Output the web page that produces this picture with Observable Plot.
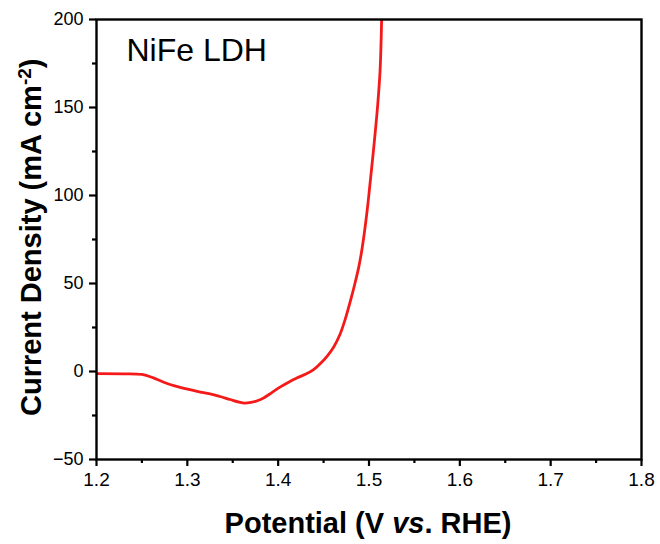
<!DOCTYPE html>
<html>
<head>
<meta charset="utf-8">
<script src="https://cdn.jsdelivr.net/npm/d3@7"></script>
<script src="https://cdn.jsdelivr.net/npm/@observablehq/plot@0.6"></script>
<style>
  html, body { margin: 0; padding: 0; background: #fff; }
  #chart { width: 660px; height: 544px; }
</style>
</head>
<body>
<div id="chart"></div>
<script>
const potential = [1.200, 1.230, 1.250, 1.262, 1.274, 1.287, 1.299, 1.312, 1.325, 1.336, 1.347, 1.357, 1.363, 1.370, 1.377, 1.384, 1.393, 1.402, 1.411, 1.420, 1.430, 1.439, 1.447, 1.454, 1.461, 1.468, 1.474, 1.480, 1.4845, 1.489, 1.4926, 1.4974, 1.501, 1.504, 1.5065, 1.5095, 1.5122, 1.5139];
const current   = [-1.2, -1.3, -1.7, -3.5, -6.1, -8.3, -9.9, -11.4, -12.7, -14.2, -15.9, -17.4, -18.0, -17.6, -16.6, -15.0, -12.0, -8.9, -6.2, -3.8, -1.6, 1.0, 4.8, 8.8, 13.8, 21, 30, 41, 50, 60, 70.6, 89, 106, 121, 134, 151, 171, 200];
const xMajor = [1.2, 1.3, 1.4, 1.5, 1.6, 1.7, 1.8];
const xMinor = [1.25, 1.35, 1.45, 1.55, 1.65, 1.75];
const yMajor = [-50, 0, 50, 100, 150, 200];
const yMinor = [-25, 25, 75, 125, 175];
const sampleLabel = "NiFe LDH";

const data = potential.map((x, i) => ({x, y: current[i]}));

const chart = Plot.plot({
  width: 660,
  height: 544,
  marginLeft: 96,
  marginRight: 19,
  marginTop: 19,
  marginBottom: 85,
  style: {fontFamily: "'Liberation Sans', Arial, sans-serif", background: "#fff", color: "#000"},
  x: {domain: [1.2, 1.8]},
  y: {domain: [-50, 200]},
  marks: [
    Plot.line(data, {x: "x", y: "y", stroke: "#f51a1a", strokeWidth: 2.8, curve: "catmull-rom", clip: true}),
    Plot.axisX({ticks: xMinor, tickSize: 4, strokeWidth: 2.2, tickFormat: () => "", label: null}),
    Plot.axisY({ticks: yMinor, tickSize: 4, strokeWidth: 2.2, tickFormat: () => "", label: null}),
    Plot.axisX({ticks: xMajor, tickSize: 7, strokeWidth: 2.2, tickPadding: 6, fontSize: 19, tickFormat: d3.format(".1f"), label: null}),
    Plot.axisY({ticks: yMajor, tickSize: 7, strokeWidth: 2.2, tickPadding: 6, fontSize: 18, tickFormat: d => d < 0 ? "\u2212" + Math.abs(d) : String(d), label: null}),
    Plot.frame({stroke: "#000", strokeWidth: 2.4}),
    Plot.text([sampleLabel], {frameAnchor: "top-left", dx: 30, dy: 19, fontSize: 32, textAnchor: "start", lineAnchor: "top", fill: "#000"})
  ]
});

const svg = d3.select(chart);
// X axis title
const xt = svg.append("text")
  .attr("x", 368).attr("y", 533)
  .attr("text-anchor", "middle")
  .attr("font-family", "'Liberation Sans', Arial, sans-serif")
  .attr("font-weight", "bold").attr("font-size", 29).attr("fill", "#000");
xt.append("tspan").text("Potential (V ");
xt.append("tspan").attr("font-style", "italic").text("vs");
xt.append("tspan").text(". RHE)");

// Y axis title
const yt = svg.append("text")
  .attr("transform", "translate(41,416) rotate(-90)")
  .attr("text-anchor", "start")
  .attr("font-family", "'Liberation Sans', Arial, sans-serif")
  .attr("font-weight", "bold").attr("font-size", 29).attr("fill", "#000");
yt.append("tspan").text("Current Density (mA cm");
yt.append("tspan").attr("baseline-shift", "super").attr("font-size", 19).text("-2");
yt.append("tspan").text(")");

document.getElementById("chart").appendChild(chart);
</script>
</body>
</html>
